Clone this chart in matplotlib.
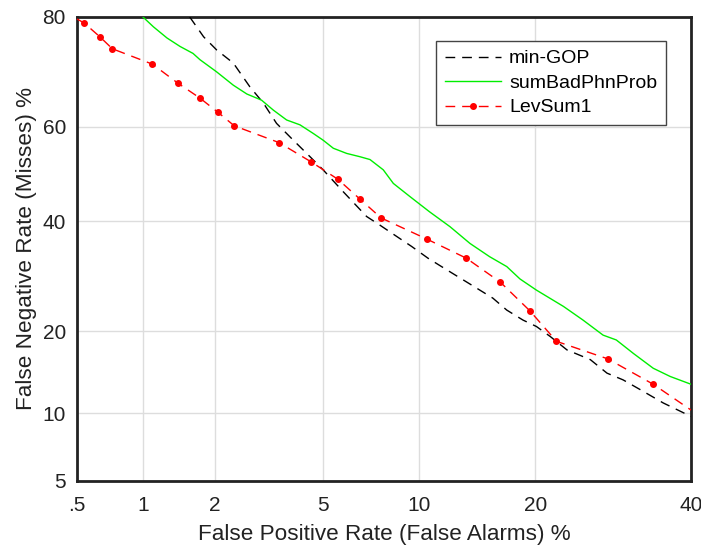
import math
import numpy as np
import matplotlib
matplotlib.use("Agg")
import matplotlib.pyplot as plt
from statistics import NormalDist

plt.rcParams['font.family'] = ['Liberation Sans', 'DejaVu Sans']

# false positive rate (%) / false negative rate (%)
mingop_fp = [1.58, 1.8, 2.03, 2.36, 2.73, 3.07, 3.43, 3.94, 4.51, 5.0, 5.84, 6.94, 7.64,
             8.59, 9.51, 10.6, 11.95, 14.4, 15.8, 17.1, 18.7, 20.1, 21.6, 23.5, 26.3,
             28.4, 30.5, 32.8, 36.0, 40.0]
mingop_fn = [80.0, 76.9, 74.7, 72.4, 68.0, 64.8, 60.7, 57.2, 53.7, 50.9, 46.2, 41.0, 39.2,
             36.9, 34.9, 32.6, 30.4, 27.0, 25.3, 23.3, 21.7, 20.7, 19.2, 17.3, 16.0,
             14.3, 13.5, 12.4, 11.0, 9.7]

sumbad_fp = [1.0, 1.11, 1.27, 1.44, 1.63, 1.74, 2.03, 2.36, 2.66, 3.02, 3.34, 3.73, 4.16,
             4.63, 5.0, 5.41, 5.99, 6.61, 7.11, 7.82, 8.39, 9.4, 10.7, 12.2, 13.8, 15.5,
             17.1, 18.4, 20.1, 23.1, 25.4, 27.9, 29.6, 31.9, 34.6, 37.0, 40.0]
sumbad_fn = [80.0, 78.5, 76.7, 75.3, 74.1, 73.0, 70.8, 68.3, 66.6, 65.4, 63.4, 61.4, 60.4,
             58.6, 57.2, 55.5, 54.4, 53.7, 53.1, 50.9, 48.0, 45.2, 42.0, 38.9, 35.5, 32.9,
             31.0, 28.7, 26.7, 23.9, 21.7, 19.4, 18.7, 16.8, 14.9, 13.9, 13.0]

levsum_fp = [0.5, 0.54, 0.64, 0.73, 1.1, 1.41, 1.74, 2.05, 2.38, 3.5, 4.55, 5.6, 6.6, 7.7,
             10.5, 13.5, 16.5, 19.4, 22.3, 28.5, 34.6, 40.0]
levsum_fn = [79.7, 79.1, 76.9, 74.9, 72.2, 68.7, 65.8, 63.0, 60.2, 56.7, 52.6, 48.9, 44.7,
             40.7, 36.4, 32.6, 28.1, 23.2, 18.5, 16.1, 13.0, 10.3]

x_ticks = [0.5, 1, 2, 5, 10, 20, 40]
x_labels = ['.5', '1', '2', '5', '10', '20', '40']
y_ticks = [5, 10, 20, 40, 60, 80]
y_labels = ['5', '10', '20', '40', '60', '80']

_nd = NormalDist()


def _ppf1(p):
    if not math.isfinite(p):
        return float('nan')
    return _nd.inv_cdf(min(max(p, 1e-9), 1 - 1e-9))


def _cdf1(z):
    if math.isnan(z):
        return float('nan')
    return _nd.cdf(z)


_ppf = np.vectorize(_ppf1, otypes=[float])
_cdf = np.vectorize(_cdf1, otypes=[float])


# probit scale, values given in percent
def probit(v):
    return _ppf(np.asarray(v, dtype=float) / 100.0)


def inv_probit(z):
    return _cdf(np.asarray(z, dtype=float)) * 100.0


fig = plt.figure(figsize=(7.01, 5.49), dpi=100)
ax = fig.add_axes([77 / 701, 68 / 549, 614 / 701, 464 / 549])
ax.set_xscale('function', functions=(probit, inv_probit))
ax.set_yscale('function', functions=(probit, inv_probit))

ax.plot(mingop_fp, mingop_fn, color='black', linestyle=(0, (7, 5)), linewidth=1.0,
        label='min-GOP', zorder=3)
ax.plot(sumbad_fp, sumbad_fn, color='#00ee00', linestyle='-', linewidth=1.0,
        label='sumBadPhnProb', zorder=3)
ax.plot(levsum_fp, levsum_fn, color='red', linestyle=(0, (7, 5)), linewidth=1.0,
        marker='o', markersize=4, markevery=list(range(1, len(levsum_fp) - 1)),
        label='LevSum1', zorder=4)

ax.set_xlim(0.5, 40)
ax.set_ylim(5, 80)
ax.set_xticks(x_ticks)
ax.set_xticklabels(x_labels)
ax.set_yticks(y_ticks)
ax.set_yticklabels(y_labels)
ax.minorticks_off()
ax.tick_params(axis='both', length=0, labelsize=15, colors='#222222')
ax.tick_params(axis='x', pad=11)
ax.tick_params(axis='y', pad=8)
ax.grid(True, color='#dddddd', linewidth=1)
for s in ax.spines.values():
    s.set_linewidth(2)
    s.set_color('#222222')

ax.set_xlabel('False Positive Rate (False Alarms) %', fontsize=16.2, color='#222222', labelpad=6)
ax.set_ylabel('False Negative Rate (Misses) %', fontsize=16.2, color='#222222', labelpad=4)

leg = ax.legend(loc='upper right', bbox_to_anchor=(0.959, 0.948), borderaxespad=0,
                fancybox=False, edgecolor='#444444', fontsize=14, handlelength=2.9,
                framealpha=1, borderpad=0.45, labelspacing=0.35, handletextpad=0.4)
leg.get_frame().set_linewidth(1)

fig.savefig('out.png', dpi=100)
